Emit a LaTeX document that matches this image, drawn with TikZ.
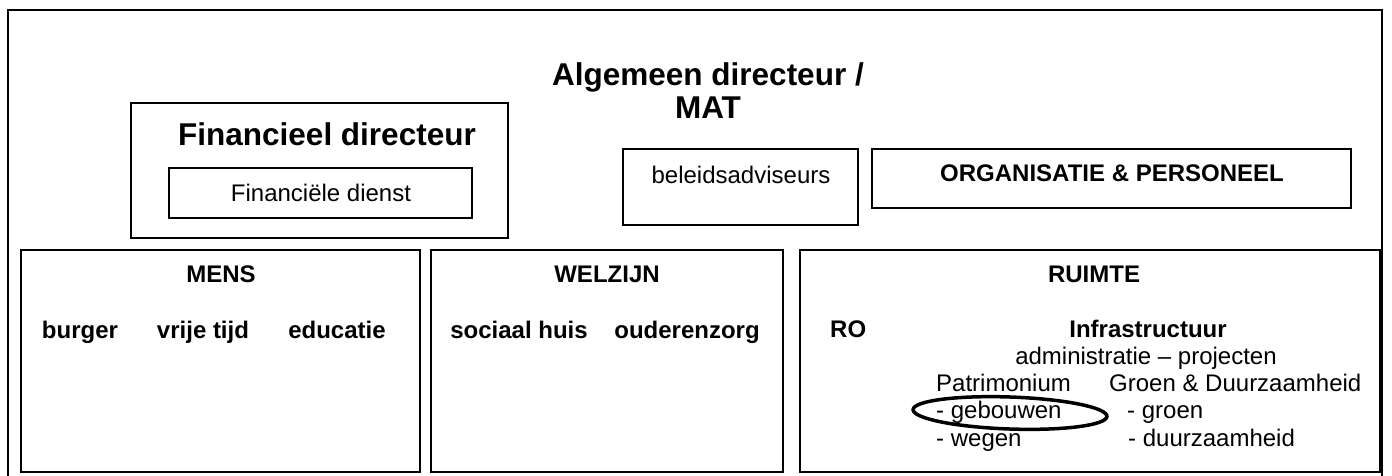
\documentclass[tikz,border=0pt]{standalone}
\usepackage{fontspec}
\setmainfont{Liberation Sans}
\usepackage{tikz}

\tikzset{
    box/.style={draw, line width=1.6pt},
    txt/.style={inner sep=0pt, anchor=base, font=\fontsize{24}{27.5}\selectfont},
    btxt/.style={inner sep=0pt, anchor=base, font=\fontsize{24}{27.5}\selectfont\bfseries},
    ltxt/.style={txt, anchor=base west},
    head/.style={inner sep=0pt, anchor=base, font=\fontsize{31.5}{33}\selectfont\bfseries}
}

\begin{document}
\begin{tikzpicture}[x=1pt, y=-1pt]
    \useasboundingbox (0,0) rectangle (1392,475);

    % Outer frame
    \draw[line width=1.6pt] (8,10) rectangle (1382,478);

    % Algemeen directeur / MAT
    \node[head] (ad) at (708,85) {Algemeen directeur /};
    \node[head] (mat) at (708,118) {MAT};

    % Financieel directeur with its dienst
    \begin{scope}
        \draw[box] (131,103) rectangle (508,238);
        \node[head] (fd) at (327,145) {Financieel directeur};
        \draw[box] (169,168) rectangle (472,218);
        \node[txt] (fdienst) at (321,201) {Financiële dienst};
    \end{scope}

    % Staff boxes
    \draw[box] (623,149) rectangle (858,225);
    \node[txt] (beleid) at (741,183) {beleidsadviseurs};
    \draw[box] (872,149) rectangle (1351,208);
    \node[btxt] (op) at (1112,181) {ORGANISATIE \& PERSONEEL};

    % MENS
    \begin{scope}
        \draw[box] (21,250) rectangle (420,472);
        \node[btxt] (mens) at (221,282) {MENS};
        \node[btxt] (burger) at (80,338) {burger};
        \node[btxt] (vrij) at (203,338) {vrije tijd};
        \node[btxt] (edu) at (337,338) {educatie};
    \end{scope}

    % WELZIJN
    \begin{scope}
        \draw[box] (431,250) rectangle (783,472);
        \node[btxt] (welzijn) at (607,282) {WELZIJN};
        \node[btxt] (sociaal) at (519,338) {sociaal huis};
        \node[btxt] (ouder) at (687,338) {ouderenzorg};
    \end{scope}

    % RUIMTE
    \begin{scope}
        \draw[box] (800,250) rectangle (1380,472);
        \node[btxt] (ruimte) at (1094,282) {RUIMTE};
        \node[btxt, anchor=base west] (ro) at (830,337) {RO};
        \node[btxt] (infra) at (1148,337) {Infrastructuur};
        \node[txt] (admin) at (1146,364) {administratie – projecten};
        \node[ltxt] (patri) at (936,391) {Patrimonium};
        \node[ltxt] (groen) at (1109,391) {Groen \& Duurzaamheid};
        \node[ltxt] (gebouw) at (936,418) {- gebouwen};
        \node[ltxt] (groen2) at (1127,418) {- groen};
        \node[ltxt] (wegen) at (936,446) {- wegen};
        \node[ltxt] (duurz) at (1128,446) {- duurzaamheid};
        \draw[line width=3.5pt, rotate around={-2:(1010,413)}] (1010,413) ellipse [x radius=97, y radius=16];
    \end{scope}

\end{tikzpicture}
\end{document}
